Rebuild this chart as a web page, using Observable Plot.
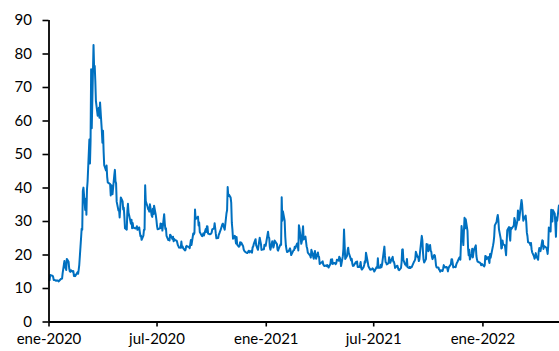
<!DOCTYPE html>
<html>
<head>
<meta charset="utf-8">
<script src="https://cdn.jsdelivr.net/npm/d3@7"></script>
<script src="https://cdn.jsdelivr.net/npm/@observablehq/plot@0.6"></script>
<style>
  html, body { margin: 0; padding: 0; background: #fff; }
  #chart { width: 559px; height: 351px; overflow: hidden; }
</style>
</head>
<body>
<div id="chart"></div>
<script>
// Daily closing values (month-day, value)
const vix2020 = [
["01-02",12.47],["01-03",14.02],["01-06",13.85],["01-07",13.79],["01-08",13.45],["01-09",12.54],["01-10",12.56],["01-13",12.32],["01-14",12.39],["01-15",12.42],["01-16",12.32],["01-17",12.10],["01-21",12.85],["01-22",12.91],["01-23",12.98],["01-24",14.56],["01-27",18.23],["01-28",16.28],["01-29",16.39],["01-30",15.49],["01-31",18.84],
["02-03",17.97],["02-04",16.05],["02-05",15.15],["02-06",14.96],["02-07",15.47],["02-10",15.04],["02-11",15.18],["02-12",13.74],["02-13",14.15],["02-14",13.68],["02-18",14.83],["02-19",14.38],["02-20",15.56],["02-21",17.08],["02-24",25.03],["02-25",27.85],["02-26",27.56],["02-27",39.16],["02-28",40.11],
["03-02",33.42],["03-03",36.82],["03-04",31.99],["03-05",39.62],["03-06",41.94],["03-09",54.46],["03-10",47.30],["03-11",53.90],["03-12",75.47],["03-13",57.83],["03-16",82.69],["03-17",75.91],["03-18",76.45],["03-19",72.00],["03-20",66.04],["03-23",61.59],["03-24",61.67],["03-25",63.95],["03-26",61.00],["03-27",65.54],["03-30",57.08],["03-31",53.54],
["04-01",57.06],["04-02",50.91],["04-03",46.80],["04-06",45.24],["04-07",46.70],["04-08",43.35],["04-09",41.67],["04-13",41.17],["04-14",37.76],["04-15",40.84],["04-16",40.11],["04-17",38.15],["04-20",43.83],["04-21",45.41],["04-22",41.98],["04-23",41.38],["04-24",35.93],["04-27",33.29],["04-28",33.57],["04-29",31.23],["04-30",34.15],
["05-01",37.19],["05-04",35.97],["05-05",33.61],["05-06",34.12],["05-07",31.44],["05-08",27.98],["05-11",27.57],["05-12",33.04],["05-13",35.28],["05-14",32.61],["05-15",31.89],["05-18",29.30],["05-19",30.53],["05-20",27.99],["05-21",29.53],["05-22",28.16],["05-26",27.91],["05-27",28.01],["05-28",28.59],["05-29",27.51],
["06-01",28.23],["06-02",26.84],["06-03",25.66],["06-04",25.81],["06-05",24.52],["06-08",25.81],["06-09",27.57],["06-10",27.57],["06-11",40.79],["06-12",36.09],["06-15",34.40],["06-16",33.67],["06-17",33.47],["06-18",32.94],["06-19",35.12],["06-22",31.77],["06-23",31.37],["06-24",33.84],["06-25",32.22],["06-26",34.73],["06-29",31.78],["06-30",30.43],
["07-01",28.62],["07-02",27.68],["07-06",27.94],["07-07",29.43],["07-08",28.08],["07-09",29.26],["07-10",27.29],["07-13",32.19],["07-14",29.52],["07-15",27.76],["07-16",28.00],["07-17",25.68],["07-20",24.46],["07-21",24.84],["07-22",24.32],["07-23",26.08],["07-24",25.84],["07-27",24.74],["07-28",25.44],["07-29",24.10],["07-30",24.76],["07-31",24.46],
["08-03",24.28],["08-04",23.76],["08-05",23.00],["08-06",22.65],["08-07",22.21],["08-10",22.13],["08-11",24.03],["08-12",22.28],["08-13",22.59],["08-14",22.05],["08-17",21.35],["08-18",21.51],["08-19",22.54],["08-20",22.72],["08-21",22.54],["08-24",22.37],["08-25",22.03],["08-26",23.27],["08-27",24.47],["08-28",22.96],["08-31",26.41],
["09-01",26.12],["09-02",26.57],["09-03",33.60],["09-04",30.75],["09-08",31.46],["09-09",28.81],["09-10",29.71],["09-11",26.87],["09-14",25.85],["09-15",25.59],["09-16",26.04],["09-17",26.46],["09-18",25.83],["09-21",27.78],["09-22",26.86],["09-23",28.58],["09-24",28.51],["09-25",26.38],["09-28",26.19],["09-29",26.27],["09-30",26.37],
["10-01",26.70],["10-02",27.63],["10-05",27.96],["10-06",29.48],["10-07",28.06],["10-08",26.36],["10-09",25.00],["10-12",25.07],["10-13",26.07],["10-14",26.40],["10-15",26.97],["10-16",27.41],["10-19",29.18],["10-20",29.35],["10-21",28.65],["10-22",28.11],["10-23",27.55],["10-26",32.46],["10-27",33.35],["10-28",40.28],["10-29",37.59],["10-30",38.02],
["11-02",37.13],["11-03",35.55],["11-04",29.57],["11-05",27.58],["11-06",24.86],["11-09",25.75],["11-10",24.80],["11-11",23.45],["11-12",25.35],["11-13",23.10],["11-16",22.45],["11-17",22.71],["11-18",23.84],["11-19",23.11],["11-20",23.70],["11-23",22.66],["11-24",21.64],["11-25",21.25],["11-27",20.84],["11-30",20.57],
["12-01",20.77],["12-02",21.17],["12-03",21.28],["12-04",20.79],["12-07",21.30],["12-08",20.68],["12-09",22.27],["12-10",22.52],["12-11",23.31],["12-14",24.72],["12-15",22.89],["12-16",22.50],["12-17",21.93],["12-18",21.57],["12-21",25.16],["12-22",24.23],["12-23",23.31],["12-24",21.53],["12-28",21.70],["12-29",23.08],["12-30",22.77],["12-31",22.75]
];
const vix2021 = [
["01-04",26.97],["01-05",25.34],["01-06",25.07],["01-07",22.37],["01-08",21.56],["01-11",24.08],["01-12",23.33],["01-13",22.21],["01-14",22.93],["01-15",24.34],["01-19",23.24],["01-20",21.58],["01-21",21.32],["01-22",21.91],["01-25",23.19],["01-26",23.02],["01-27",37.21],["01-28",30.21],["01-29",33.09],
["02-01",30.24],["02-02",25.56],["02-03",22.91],["02-04",21.77],["02-05",20.87],["02-08",21.24],["02-09",21.63],["02-10",21.99],["02-11",21.25],["02-12",19.97],["02-16",21.46],["02-17",21.50],["02-18",22.49],["02-19",22.05],["02-22",23.45],["02-23",23.11],["02-24",21.34],["02-25",28.89],["02-26",27.95],
["03-01",23.35],["03-02",24.10],["03-03",26.67],["03-04",28.57],["03-05",24.66],["03-08",25.47],["03-09",24.03],["03-10",22.56],["03-11",21.91],["03-12",20.69],["03-15",20.03],["03-16",19.79],["03-17",19.23],["03-18",21.58],["03-19",20.95],["03-22",18.88],["03-23",20.30],["03-24",21.20],["03-25",19.81],["03-26",18.86],["03-29",20.74],["03-30",19.61],["03-31",19.40],
["04-01",17.33],["04-05",17.91],["04-06",18.12],["04-07",17.16],["04-08",16.95],["04-09",16.69],["04-12",16.91],["04-13",16.65],["04-14",16.99],["04-15",16.57],["04-16",16.25],["04-19",17.30],["04-20",18.68],["04-21",17.50],["04-22",18.71],["04-23",17.33],["04-26",17.64],["04-27",17.56],["04-28",17.28],["04-29",17.61],["04-30",18.61],
["05-03",18.31],["05-04",19.48],["05-05",19.15],["05-06",18.39],["05-07",16.69],["05-10",19.66],["05-11",21.84],["05-12",27.59],["05-13",23.13],["05-14",18.81],["05-17",19.72],["05-18",21.34],["05-19",22.18],["05-20",20.67],["05-21",20.15],["05-24",18.40],["05-25",18.84],["05-26",17.36],["05-27",16.74],["05-28",16.76],
["06-01",17.90],["06-02",17.48],["06-03",18.04],["06-04",16.42],["06-07",16.42],["06-08",17.07],["06-09",17.89],["06-10",16.10],["06-11",15.65],["06-14",16.39],["06-15",17.02],["06-16",18.15],["06-17",17.75],["06-18",20.70],["06-21",17.89],["06-22",16.66],["06-23",16.32],["06-24",15.97],["06-25",15.62],["06-28",15.76],["06-29",16.02],["06-30",15.83],
["07-01",15.48],["07-02",15.07],["07-06",16.44],["07-07",16.20],["07-08",19.00],["07-09",16.18],["07-12",16.17],["07-13",17.12],["07-14",16.33],["07-15",17.01],["07-16",18.45],["07-19",22.50],["07-20",19.73],["07-21",17.91],["07-22",17.69],["07-23",17.20],["07-26",17.58],["07-27",19.36],["07-28",18.31],["07-29",17.70],["07-30",18.24],
["08-02",19.46],["08-03",18.04],["08-04",17.97],["08-05",17.28],["08-06",16.15],["08-09",16.72],["08-10",16.79],["08-11",16.06],["08-12",15.59],["08-13",15.45],["08-16",16.12],["08-17",17.91],["08-18",21.57],["08-19",21.67],["08-20",18.56],["08-23",17.15],["08-24",17.22],["08-25",16.79],["08-26",18.84],["08-27",16.39],["08-30",16.11],["08-31",16.48],
["09-01",16.11],["09-02",16.41],["09-03",16.41],["09-07",18.04],["09-08",18.28],["09-09",18.80],["09-10",20.95],["09-13",19.37],["09-14",19.46],["09-15",18.18],["09-16",18.69],["09-17",20.81],["09-20",25.71],["09-21",24.36],["09-22",20.87],["09-23",18.63],["09-24",17.75],["09-27",18.76],["09-28",23.25],["09-29",22.56],["09-30",23.14],
["10-01",21.15],["10-04",22.96],["10-05",21.30],["10-06",21.00],["10-07",19.54],["10-08",18.77],["10-11",20.00],["10-12",19.85],["10-13",18.64],["10-14",16.86],["10-15",16.30],["10-18",16.30],["10-19",15.70],["10-20",15.49],["10-21",15.01],["10-22",15.43],["10-25",15.24],["10-26",15.98],["10-27",16.98],["10-28",16.53],["10-29",16.26],
["11-01",16.41],["11-02",16.03],["11-03",15.10],["11-04",16.00],["11-05",16.48],["11-08",17.22],["11-09",18.73],["11-10",18.73],["11-11",17.66],["11-12",16.29],["11-15",16.49],["11-16",16.37],["11-17",17.11],["11-18",17.59],["11-19",17.91],["11-22",19.17],["11-23",19.38],["11-24",18.58],["11-26",28.62],["11-29",22.96],["11-30",27.19],
["12-01",31.12],["12-02",27.95],["12-03",30.67],["12-06",27.18],["12-07",21.89],["12-08",19.90],["12-09",21.58],["12-10",18.69],["12-13",20.31],["12-14",21.89],["12-15",19.29],["12-16",20.57],["12-17",21.57],["12-20",22.87],["12-21",19.70],["12-22",18.63],["12-23",18.02],["12-27",17.68],["12-28",17.54],["12-29",16.95],["12-30",17.33],["12-31",17.22]
];
const vix2022 = [
["01-03",16.60],["01-04",16.91],["01-05",19.73],["01-06",19.61],["01-07",18.76],["01-10",19.40],["01-11",18.41],["01-12",17.62],["01-13",20.31],["01-14",19.19],["01-18",22.79],["01-19",23.85],["01-20",25.59],["01-21",28.85],["01-24",29.90],["01-25",31.16],["01-26",31.96],["01-27",30.49],["01-28",27.66],["01-31",24.83],
["02-01",21.96],["02-02",22.09],["02-03",24.35],["02-04",23.22],["02-07",22.86],["02-08",21.44],["02-09",19.96],["02-10",23.91],["02-11",27.36],["02-14",28.33],["02-15",25.70],["02-16",24.29],["02-17",28.11],["02-18",27.75],["02-22",28.81],["02-23",31.02],["02-24",30.32],["02-25",27.59],["02-28",30.15],
["03-01",33.32],["03-02",31.12],["03-03",30.48],["03-04",31.98],["03-07",36.45],["03-08",35.13],["03-09",32.45],["03-10",30.23],["03-11",30.75],["03-14",31.77],["03-15",29.83],["03-16",26.67],["03-17",25.67],["03-18",23.87],["03-21",23.53],["03-22",22.94],["03-23",23.57],["03-24",21.67],["03-25",20.81],["03-28",19.63],["03-29",18.90],["03-30",19.33],["03-31",20.56],
["04-01",19.63],["04-04",18.57],["04-05",21.03],["04-06",22.10],["04-07",21.55],["04-08",21.16],["04-11",24.37],["04-12",24.26],["04-13",21.82],["04-14",22.70],["04-18",22.17],["04-19",21.37],["04-20",20.32],["04-21",22.68],["04-22",28.21],["04-25",27.02],["04-26",33.52],["04-27",31.60],["04-28",29.99],["04-29",33.40],
["05-02",32.34],["05-03",29.25],["05-04",25.42],["05-05",31.20],["05-06",30.19],["05-09",34.75]
];

const yTicks = [0, 10, 20, 30, 40, 50, 60, 70, 80, 90];
const xTickDates = ["2020-01-01", "2020-07-01", "2021-01-01", "2021-07-01", "2022-01-01"];
const xTickLabels = ["ene-2020", "jul-2020", "ene-2021", "jul-2021", "ene-2022"];
const xDomain = ["2020-01-01", "2022-05-10"];

const toRows = (year, arr) => arr.map(([md, v]) => ({date: new Date(`${year}-${md}T00:00:00Z`), value: v}));
const data = [...toRows(2020, vix2020), ...toRows(2021, vix2021), ...toRows(2022, vix2022)];
const tickDates = xTickDates.map(s => new Date(s + "T00:00:00Z"));
const labelOf = new Map(tickDates.map((d, i) => [+d, xTickLabels[i]]));
const dom = xDomain.map(s => new Date(s + "T00:00:00Z"));

const chart = Plot.plot({
  width: 559,
  height: 351,
  marginLeft: 48.5,
  marginRight: 0,
  marginTop: 20,
  marginBottom: 29.5,
  style: {fontFamily: "Lato", fontSize: "15px", color: "#000", background: "#fff", overflow: "hidden"},
  x: {type: "utc", domain: dom},
  y: {domain: [0, 90]},
  marks: [
    Plot.axisY({ticks: yTicks, tickSize: 6, tickPadding: 11, strokeWidth: 1.6, label: null, tickFormat: d => String(d)}),
    Plot.axisX({ticks: tickDates, tickSize: 5, tickPadding: 6, strokeWidth: 1.6, label: null, tickFormat: d => labelOf.get(+d)}),
    Plot.line(data, {x: "date", y: "value", stroke: "#0070C0", strokeWidth: 2, curve: "linear"}),
    Plot.ruleY([0], {stroke: "#000", strokeWidth: 1.8}),
    Plot.ruleX([dom[0]], {y1: 0, y2: 90, stroke: "#000", strokeWidth: 1.8})
  ]
});
document.getElementById("chart").appendChild(chart);
</script>
</body>
</html>
